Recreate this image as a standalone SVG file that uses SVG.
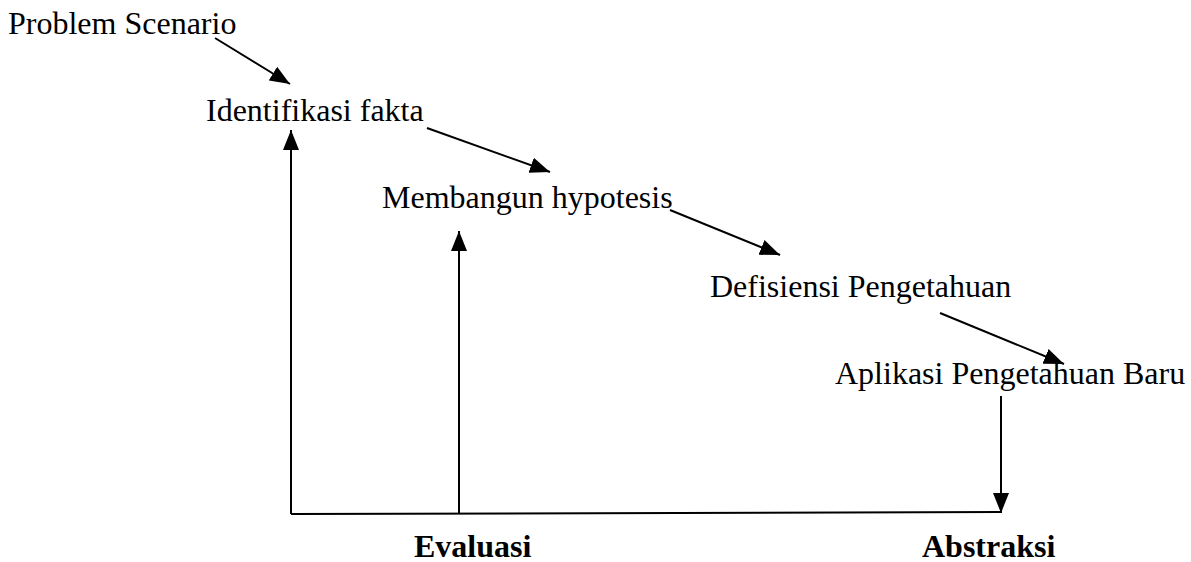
<svg xmlns="http://www.w3.org/2000/svg" width="1191" height="562" viewBox="0 0 1191 562">
<style>
text{font-family:"Liberation Serif","Times New Roman",serif;font-size:32px;fill:#000}
.b{font-weight:bold}
.c{stroke:#000;stroke-width:2;fill:none}
</style>
<defs>
<marker id="ah" markerUnits="userSpaceOnUse" markerWidth="22" markerHeight="18" refX="20" refY="8" orient="auto" viewBox="0 0 22 16">
<path d="M0,0 L20,8 L0,16 Z" fill="#000"/>
</marker>
</defs>
<rect width="1191" height="562" fill="#fff"/>
<g id="n1"><text x="8" y="34">Problem Scenario</text></g>
<g id="n2"><text x="206" y="121">Identifikasi fakta</text></g>
<g id="n3"><text x="382" y="208">Membangun hypotesis</text></g>
<g id="n4"><text x="710" y="297">Defisiensi Pengetahuan</text></g>
<g id="n5"><text x="835" y="384">Aplikasi Pengetahuan Baru</text></g>
<g id="n6"><text class="b" x="414" y="557">Evaluasi</text></g>
<g id="n7"><text class="b" x="922" y="557">Abstraksi</text></g>
<g id="connectors">
<line class="c" x1="215" y1="38" x2="290" y2="84" marker-end="url(#ah)"/>
<line class="c" x1="427" y1="128" x2="550" y2="172" marker-end="url(#ah)"/>
<line class="c" x1="670" y1="210" x2="780" y2="255" marker-end="url(#ah)"/>
<line class="c" x1="940" y1="313" x2="1064" y2="364" marker-end="url(#ah)"/>
<line class="c" x1="1001" y1="396" x2="1001" y2="513" marker-end="url(#ah)"/>
<polyline class="c" points="291,514 1001,512"/>
<line class="c" x1="291" y1="514" x2="291" y2="130" marker-end="url(#ah)"/>
<line class="c" x1="459" y1="513" x2="459" y2="231" marker-end="url(#ah)"/>
</g>
</svg>
